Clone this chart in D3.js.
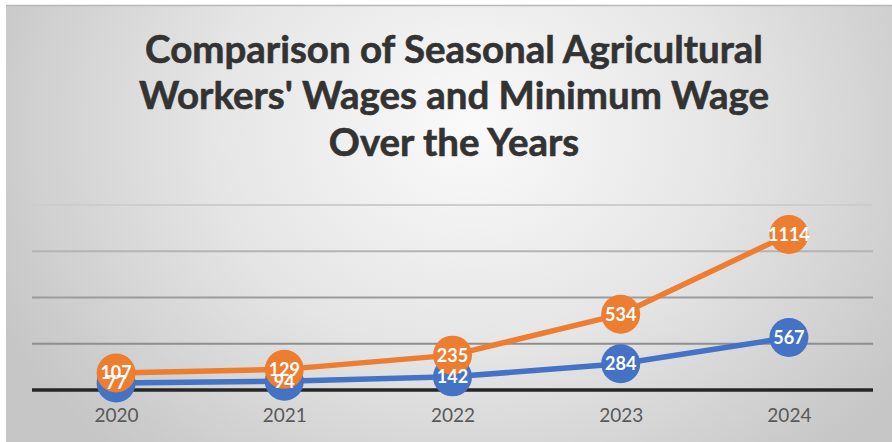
<!DOCTYPE html>
<html>
<head>
<meta charset="utf-8">
<script src="https://cdn.jsdelivr.net/npm/d3@7"></script>
<style>
  html, body { margin: 0; padding: 0; background: #ffffff; }
  svg { display: block; }
</style>
</head>
<body>
<div id="chart"></div>
<script>
// ---- data ----
const years = ["2020", "2021", "2022", "2023", "2024"];
const minimumWage = [77, 94, 142, 284, 567];
const agriculturalWage = [107, 129, 235, 534, 1114];
const yTicks = [0, 500, 1000, 1500, 2000];
const titleLines = [
  "Comparison of Seasonal Agricultural",
  "Workers' Wages and Minimum Wage",
  "Over the Years"
];
const seriesKeys = ["minimum", "agricultural"];
const seriesColors = { minimum: "#4472C4", agricultural: "#ED7D31" };

// ---- layout ----
const W = 892, H = 442;
const svg = d3.select("#chart").append("svg").attr("width", W).attr("height", H);

const defs = svg.append("defs");
const grad = defs.append("radialGradient")
  .attr("id", "bg")
  .attr("gradientUnits", "userSpaceOnUse")
  .attr("cx", 470).attr("cy", 130).attr("r", 520)
  .attr("gradientTransform", "translate(470,130) scale(1,0.85) translate(-470,-130)");
grad.append("stop").attr("offset", "0").attr("stop-color", "#fafafa");
grad.append("stop").attr("offset", "0.5").attr("stop-color", "#e5e5e5");
grad.append("stop").attr("offset", "1").attr("stop-color", "#c6c6c6");

svg.append("rect").attr("x", 6).attr("y", 5).attr("width", W - 6).attr("height", H - 5)
  .attr("fill", "url(#bg)");
svg.append("line").attr("x1", 6).attr("x2", W).attr("y1", 5.5).attr("y2", 5.5)
  .attr("stroke", "#b8b8b8").attr("stroke-width", 1.5);

// ---- title ----
const titleG = svg.append("g").attr("font-family", "Lato, 'Open Sans', sans-serif")
  .attr("font-weight", 700).attr("fill", "#333333").attr("text-anchor", "middle")
  .attr("stroke", "#333333").attr("stroke-width", 0.6);
const baseSize = 36;
const titleBaselines = [63, 109, 156];
const tTexts = titleG.selectAll("text").data(titleLines).join("text")
  .attr("x", 454)
  .attr("y", (d, i) => titleBaselines[i])
  .attr("font-size", baseSize)
  .text(d => d);
const measured = tTexts.nodes()[0].getComputedTextLength();
const fitSize = baseSize * 618 / measured;
tTexts.attr("font-size", fitSize);

// ---- scales ----
const x = d3.scalePoint().domain(years).range([32, 873]).padding(0.5);
const y = d3.scaleLinear().domain([0, 2000]).range([390, 205]);

// gridlines
const gridColors = ["#000", "#8e8e8e", "#9c9c9c", "#b4b4b4", "#cdcdcd"];
svg.append("g").selectAll("line").data(yTicks.filter(t => t > 0)).join("line")
  .attr("x1", 32).attr("x2", 873)
  .attr("y1", d => y(d)).attr("y2", d => y(d))
  .attr("stroke", d => gridColors[yTicks.indexOf(d)])
  .attr("stroke-width", 2);

// baseline
svg.append("line").attr("x1", 32).attr("x2", 873).attr("y1", y(0)).attr("y2", y(0))
  .attr("stroke", "#262626").attr("stroke-width", 3.5);

// x axis labels
const xAxis = d3.axisBottom(x).tickSize(0).tickPadding(19);
const ax = svg.append("g").attr("transform", `translate(0,${y(0)})`).call(xAxis);
ax.select(".domain").remove();
ax.selectAll("text").attr("font-family", "Lato, 'Open Sans', sans-serif")
  .attr("font-size", 19).attr("fill", "#595959");

// ---- stacked series ----
const table = years.map((yr, i) => ({ year: yr, minimum: minimumWage[i], agricultural: agriculturalWage[i] }));
const stacked = d3.stack().keys(seriesKeys)(table);

const line = d3.line().x(d => x(d.data.year)).y(d => y(d[1]));

svg.append("g").selectAll("path").data(stacked).join("path")
  .attr("d", s => line(s))
  .attr("fill", "none")
  .attr("stroke", s => seriesColors[s.key])
  .attr("stroke-width", 5.5)
  .attr("stroke-linejoin", "round");

stacked.forEach(s => {
  svg.append("g").selectAll("circle").data(s).join("circle")
    .attr("cx", d => x(d.data.year))
    .attr("cy", d => y(d[1]))
    .attr("r", 19.5)
    .attr("fill", seriesColors[s.key]);
});

stacked.forEach(s => {
  svg.append("g").selectAll("text").data(s).join("text")
    .attr("x", d => x(d.data.year))
    .attr("y", d => y(d[1]))
    .attr("dy", "0.36em")
    .attr("text-anchor", "middle")
    .attr("font-family", "Lato, 'Open Sans', sans-serif")
    .attr("font-weight", 700)
    .attr("font-size", 18)
    .attr("fill", "#ffffff")
    .text(d => d.data[s.key]);
});
</script>
</body>
</html>
